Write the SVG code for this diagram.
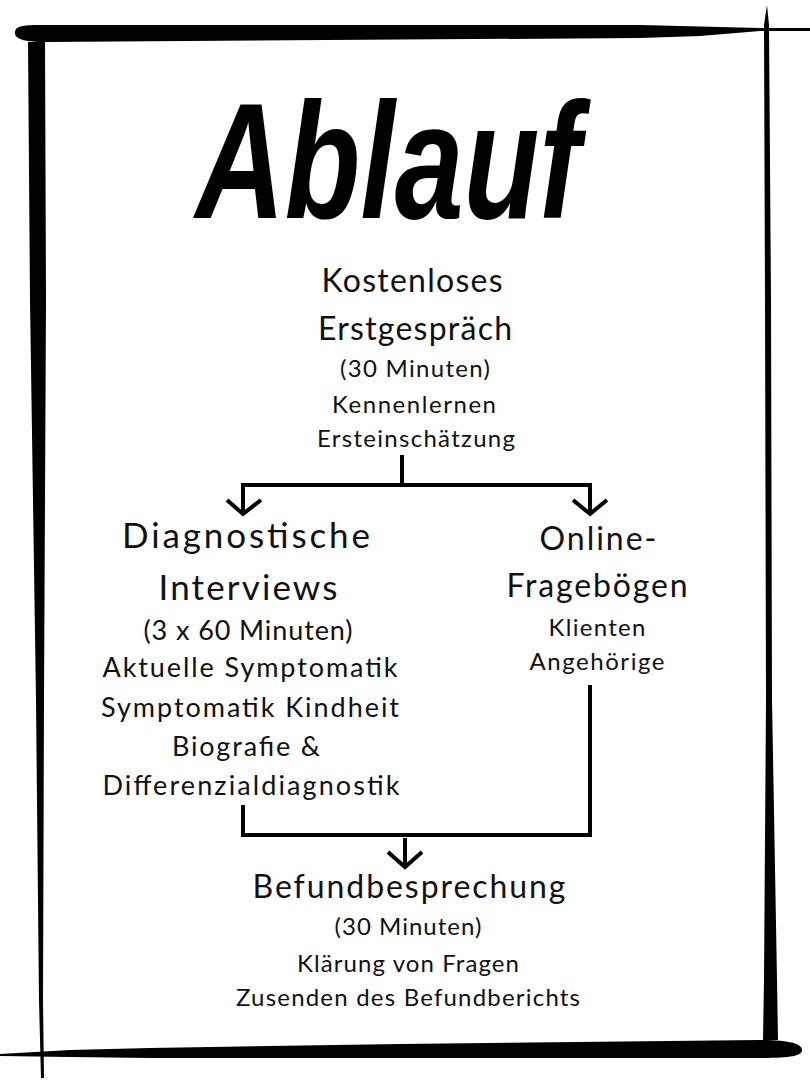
<svg xmlns="http://www.w3.org/2000/svg" width="810" height="1080" viewBox="0 0 810 1080">
<style>
.t{font-family:Lato,"Open Sans","Liberation Sans",sans-serif;fill:#111;text-anchor:middle;font-weight:400}
.h{font-size:32px}
.H{font-size:35px}
.s{font-size:24px}
.d{font-size:27px}
.c{fill:none;stroke:#000;stroke-width:4}
.f{fill:#000}
</style>
<rect width="810" height="1080" fill="#fff"/>
<g id="frame">
<path class="f" d="M15,33 C15,26 22,25 40,25 L640,25 L760,28 L810,28 L810,31 L760,31 L700,36 L640,38 L45,42 C28,42 15,40 15,33 Z"/>
<path class="f" d="M28,42 L45,42 L46,300 L44,700 L43,1000 L44,1078 L41,1078 L39,1000 L36,700 L30,300 Z"/>
<path class="f" d="M767,5 L769,25 L771,300 L772,700 L777,980 L778,1040 L763,1040 L764,980 L766,700 L765,300 L764,25 Z"/>
<path class="f" d="M0,1054 L70,1050 L150,1048 L400,1044 L760,1040 C790,1040 802,1044 802,1050 C802,1056 790,1058 760,1058 L400,1058 L150,1058 L70,1057 L0,1056 Z"/>
</g>
<g id="title">
<text x="388" y="218" font-family="'Liberation Sans',sans-serif" font-weight="bold" font-style="italic" font-size="165" textLength="385" lengthAdjust="spacingAndGlyphs" text-anchor="middle" fill="#000">Ablauf</text>
</g>
<g id="node-erstgespraech">
<text class="t h" x="412" y="292" textLength="181" lengthAdjust="spacing">Kostenloses</text>
<text class="t h" x="415" y="340" textLength="194" lengthAdjust="spacing">Erstgespräch</text>
<text class="t s" x="415" y="377" textLength="150" lengthAdjust="spacing">(30 Minuten)</text>
<text class="t s" x="414" y="413" textLength="164" lengthAdjust="spacing">Kennenlernen</text>
<text class="t s" x="416" y="447" textLength="198" lengthAdjust="spacing">Ersteinschätzung</text>
</g>
<g id="node-interviews">
<text class="t H" x="246" y="548" textLength="248" lengthAdjust="spacing">Diagnostische</text>
<text class="t H" x="248" y="600" textLength="179" lengthAdjust="spacing">Interviews</text>
<text class="t d" x="248" y="640" textLength="209" lengthAdjust="spacing">(3 x 60 Minuten)</text>
<text class="t d" x="250" y="677" textLength="295" lengthAdjust="spacing">Aktuelle Symptomatik</text>
<text class="t d" x="250" y="717" textLength="298" lengthAdjust="spacing">Symptomatik Kindheit</text>
<text class="t d" x="246" y="756" textLength="148" lengthAdjust="spacing">Biografie &amp;</text>
<text class="t d" x="251" y="795" textLength="297" lengthAdjust="spacing">Differenzialdiagnostik</text>
</g>
<g id="node-frageboegen">
<text class="t h" x="598" y="550" textLength="117" lengthAdjust="spacing">Online-</text>
<text class="t h" x="597" y="597" textLength="181" lengthAdjust="spacing">Fragebögen</text>
<text class="t s" x="597" y="636" textLength="97" lengthAdjust="spacing">Klienten</text>
<text class="t s" x="597" y="670" textLength="135" lengthAdjust="spacing">Angehörige</text>
</g>
<g id="node-befund">
<text class="t h" x="409" y="898" textLength="313" lengthAdjust="spacing">Befundbesprechung</text>
<text class="t s" x="408" y="935" textLength="147" lengthAdjust="spacing">(30 Minuten)</text>
<text class="t s" x="408" y="972" textLength="222" lengthAdjust="spacing">Klärung von Fragen</text>
<text class="t s" x="408" y="1006" textLength="344" lengthAdjust="spacing">Zusenden des Befundberichts</text>
</g>
<g id="connectors">
<path class="c" d="M402,455 V485 M243,485 H592 M243,483 V515 M590,483 V515"/>
<path class="c" d="M227,500 L243,514 L261,500 M573,500 L590,514 L607,500"/>
<path class="c" d="M243,805 V835 H590 V685"/>
<path class="c" d="M405,838 V867 M388,852 L405,867 L422,852"/>
</g>
</svg>
